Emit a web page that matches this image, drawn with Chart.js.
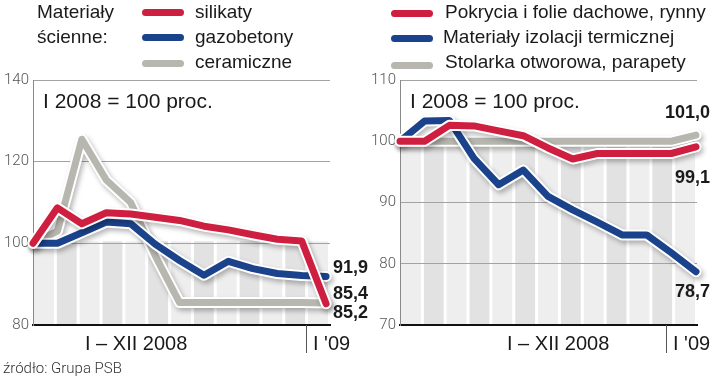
<!DOCTYPE html>
<html>
<head>
<meta charset="utf-8">
<script src="https://cdn.jsdelivr.net/npm/chart.js@4.4.1/dist/chart.umd.min.js"></script>
<style>
  body { margin: 0; background: #fff; }
  #wrap { position: relative; width: 720px; height: 380px; overflow: hidden; background: #fff;
          font-family: "Liberation Sans", Arial, sans-serif; color: #1a1a1a; }
  canvas { position: absolute; top: 0; }
  .t { position: absolute; white-space: nowrap; line-height: 1; }
  .leg { font-size: 19px; }
  .sw { position: absolute; width: 42px; height: 7px; border-radius: 4px; }
  .note { font-size: 21px; }
  .xl { font-size: 20px; }
  .src { font-family: Roboto, sans-serif; font-weight: 300; font-size: 15px; color: #333; }
</style>
</head>
<body>
<div id="wrap">
  <canvas id="left" width="400" height="380" style="left:0;width:400px;height:380px"></canvas>
  <canvas id="right" width="360" height="380" style="left:360px;width:360px;height:380px"></canvas>

  <div class="t leg" style="left:37px;top:2px">Materiały</div>
  <div class="t leg" style="left:37px;top:27px">ścienne:</div>
  <div class="sw" style="left:142px;top:9px;background:#cf1f40"></div>
  <div class="sw" style="left:142px;top:34px;background:#1b438c"></div>
  <div class="sw" style="left:142px;top:60px;background:#b7b7b0"></div>
  <div class="t leg" style="left:195px;top:2px">silikaty</div>
  <div class="t leg" style="left:195px;top:27px">gazobetony</div>
  <div class="t leg" style="left:195px;top:52px">ceramiczne</div>

  <div class="sw" style="left:391px;top:10px;background:#cf1f40"></div>
  <div class="sw" style="left:391px;top:35px;background:#1b438c"></div>
  <div class="sw" style="left:391px;top:62px;background:#b7b7b0"></div>
  <div class="t leg" style="left:445px;top:2px">Pokrycia i folie dachowe, rynny</div>
  <div class="t leg" style="left:443px;top:27px">Materiały izolacji termicznej</div>
  <div class="t leg" style="left:445px;top:52px">Stolarka otworowa, parapety</div>

  <div class="t note" style="left:43px;top:90px">I 2008 = 100 proc.</div>
  <div class="t note" style="left:410px;top:90px">I 2008 = 100 proc.</div>

  <div class="t xl" style="left:85px;top:333px">I – XII 2008</div>
  <div class="t xl" style="left:313px;top:333px">I '09</div>
  <div class="t xl" style="left:507px;top:333px">I – XII 2008</div>
  <div class="t xl" style="left:673px;top:333px">I '09</div>

  <div class="t src" style="left:3px;top:361px">źródło: Grupa PSB</div>
</div>

<script>
const months = ['I', 'II', 'III', 'IV', 'V', 'VI', 'VII', 'VIII', 'IX', 'X', 'XI', 'XII', "I '09"];

// lewy wykres - materialy scienne
const silikaty   = [100, 108.7, 104.8, 107.5, 107.2, 106.4, 105.6, 104.2, 103.3, 102.1, 101.0, 100.6, 85.2];
const gazobetony = [100, 100, 102.6, 105.2, 104.8, 99.8, 95.8, 92.2, 95.6, 93.8, 92.6, 92.1, 91.9];
const ceramiczne = [100, 103, 125.5, 115.5, 110, 97, 85.5, 85.5, 85.5, 85.5, 85.5, 85.5, 85.4];

// prawy wykres
const pokrycia  = [100, 100, 102.6, 102.5, 101.7, 100.9, 98.9, 97.1, 98, 98, 98, 98, 99.1];
const izolacja  = [100, 103.3, 103.4, 97.2, 92.9, 95.3, 91, 88.8, 86.8, 84.7, 84.7, 81.8, 78.7];
const stolarka  = [100, 100, 100, 100, 100, 100, 100, 100, 100, 100, 100, 100, 101.0];

const leftTicks = [80, 100, 120, 140];
const rightTicks = [70, 80, 90, 100, 110];

const RED = '#cf1f40', BLUE = '#1b438c', GREY = '#b7b7b0';

function pts(arr) {
  return arr.map((v, i) => ({ x: i, y: v }));
}

function series(arr, color, labelDy) {
  // kolorowa linia + biala obwodka pod spodem
  return [
    { data: pts(arr), borderColor: color, borderWidth: 7, labelDy },
    { data: pts(arr), borderColor: '#ffffff', borderWidth: 11, outline: true }
  ];
}

const stripes = {
  id: 'stripes',
  beforeDraw(chart) {
    const { ctx, chartArea: a, scales: { y } } = chart;
    const top = y.getPixelForValue(100.5);
    const w = (a.right - a.left) / months.length;
    ctx.save();
    for (let i = 0; i < months.length; i++) {
      ctx.fillStyle = i % 2 ? '#e2e2e2' : '#eeeeee';
      ctx.fillRect(a.left + i * w + 1, top, w - 3, a.bottom - top);
    }
    ctx.restore();
  }
};

const shadow = {
  id: 'shadow',
  beforeDatasetDraw(chart, args) {
    const ds = chart.data.datasets[args.index];
    chart.ctx.save();
    if (ds.outline) {
      chart.ctx.shadowColor = 'rgba(0,0,0,0.28)';
      chart.ctx.shadowBlur = 5;
      chart.ctx.shadowOffsetX = 2;
      chart.ctx.shadowOffsetY = 3;
    }
  },
  afterDatasetDraw(chart) {
    chart.ctx.restore();
  }
};

const endLabels = {
  id: 'endLabels',
  afterDatasetsDraw(chart, args, opts) {
    const { ctx } = chart;
    ctx.save();
    ctx.font = 'bold 18px "Liberation Sans", Arial, sans-serif';
    ctx.fillStyle = '#1a1a1a';
    ctx.textBaseline = 'middle';
    ctx.textAlign = opts.align;
    chart.data.datasets.forEach((ds, i) => {
      if (ds.outline) return;
      const meta = chart.getDatasetMeta(i);
      const p = meta.data[meta.data.length - 1];
      const v = ds.data[ds.data.length - 1].y;
      const x = opts.align === 'left' ? p.x + 7 : opts.x;
      ctx.fillText(v.toFixed(1).replace('.', ','), x, p.y + ds.labelDy);
    });
    ctx.restore();
  }
};

const separator = {
  id: 'separator',
  afterDraw(chart, args, opts) {
    const { ctx, chartArea: a, scales: { x } } = chart;
    const px = Math.round(x.getPixelForValue(opts.at)) + 0.5;
    ctx.save();
    ctx.strokeStyle = '#555';
    ctx.lineWidth = 1;
    ctx.beginPath();
    ctx.moveTo(px, a.bottom);
    ctx.lineTo(px, a.bottom + 28);
    ctx.stroke();
    ctx.restore();
  }
};

function makeChart(id, datasets, ticks, xMax, yWidth, padRight, labelOpts, sepAt) {
  return new Chart(document.getElementById(id), {
    type: 'line',
    data: { datasets },
    plugins: [stripes, shadow, endLabels, separator],
    options: {
      responsive: false,
      devicePixelRatio: 1,
      animation: false,
      layout: { padding: { top: 80, bottom: 55, left: 0, right: padRight } },
      elements: {
        point: { radius: 0, hoverRadius: 0 },
        line: { tension: 0, borderCapStyle: 'round', borderJoinStyle: 'round', fill: false }
      },
      datasets: { line: { clip: false } },
      plugins: {
        legend: { display: false },
        tooltip: { enabled: false },
        endLabels: labelOpts,
        separator: { at: sepAt }
      },
      scales: {
        x: {
          type: 'linear', min: 0, max: xMax,
          grid: { display: false },
          ticks: { display: false },
          border: { color: '#111', width: 2 },
          afterFit: s => { s.height = 0; }
        },
        y: {
          min: ticks[0], max: ticks[ticks.length - 1],
          afterBuildTicks: s => { s.ticks = ticks.map(v => ({ value: v })); },
          grid: { color: '#a3a3a3', lineWidth: 1, drawTicks: false },
          border: { color: '#8a8a8a', width: 1 },
          ticks: {
            padding: 4,
            color: '#555',
            font: { family: 'Roboto', weight: 300, size: 15 }
          },
          afterFit: s => { s.width = yWidth; }
        }
      }
    }
  });
}

makeChart('left',
  [...series(silikaty, RED, 9), ...series(gazobetony, BLUE, -8), ...series(ceramiczne, GREY, -9)],
  leftTicks, 12.16, 33, 70, { align: 'left' }, 11.18);

makeChart('right',
  [...series(pokrycia, RED, 31), ...series(izolacja, BLUE, 20), ...series(stolarka, GREY, -22)],
  rightTicks, 12.04, 40, 23, { align: 'right', x: 350 }, 10.78);
</script>
</body>
</html>
